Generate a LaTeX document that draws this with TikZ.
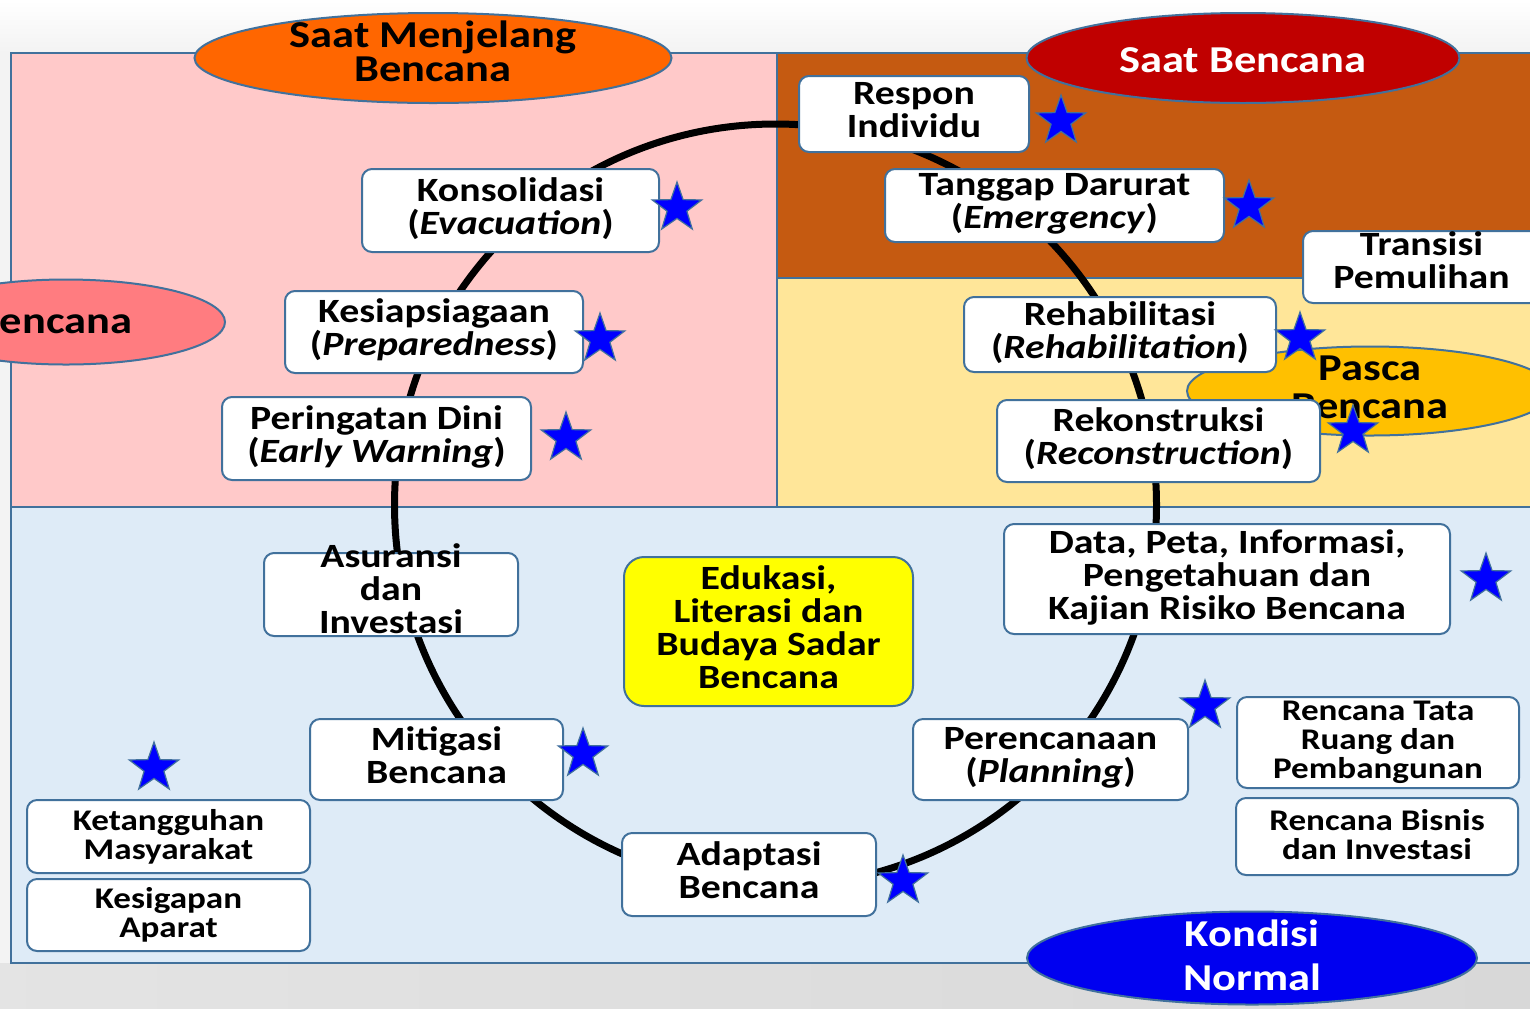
\documentclass[tikz,border=0pt]{standalone}
\usepackage{fontspec}
\setmainfont{Carlito}[UprightFont={* Bold}, BoldFont={* Bold}, ItalicFont={* Bold Italic}, BoldItalicFont={* Bold Italic}, FakeStretch=1.17]
\usetikzlibrary{shapes.geometric}

\definecolor{edgeC}{HTML}{41719C}
\definecolor{pinkZ}{HTML}{FFC9C9}
\definecolor{brownZ}{HTML}{C55A11}
\definecolor{creamZ}{HTML}{FFE699}
\definecolor{blueZ}{HTML}{DEEBF7}
\definecolor{orangeE}{HTML}{FF6600}
\definecolor{redE}{HTML}{C00000}
\definecolor{roseE}{HTML}{FF7C80}
\definecolor{goldE}{HTML}{FFC000}
\definecolor{navyE}{HTML}{0000F0}
\definecolor{starC}{HTML}{0000FF}
\definecolor{paperC}{HTML}{F3F3F3}
\definecolor{floorC}{HTML}{D8D8D8}
\definecolor{yellowB}{HTML}{FFFF00}

\tikzset{
  zoneline/.style={draw=edgeC, line width=1.3pt},
  txt/.style={align=center, font=\fontsize{17}{16.5}\selectfont},
  smalltxt/.style={align=center, font=\fontsize{15}{14.5}\selectfont},
  bigtxt/.style={align=center, font=\fontsize{19}{17}\selectfont},
  card/.style={rectangle, rounded corners=5pt, draw=edgeC, line width=1pt,
    fill=white, inner sep=0pt, txt, text depth=4.5pt},
  smallcard/.style={card, smalltxt, text depth=2.5pt},
  phase/.style={ellipse, draw=edgeC, line width=1pt, inner sep=0pt},
  starmark/.style={star, star points=5, star point ratio=2.5, minimum size=26pt,
    inner sep=0pt, fill=starC, draw=edgeC, line width=0.6pt},
  cycle/.style={line width=3.5pt, black}
}

\begin{document}
\begin{tikzpicture}[x=0.5pt, y=-0.5pt]
\useasboundingbox (0,0) rectangle (1530,1008);

% page background
\shade[top color=white, bottom color=paperC] (0,0) rectangle (1530,53);
\fill[paperC] (0,53) rectangle (1530,963);
\shade[left color=floorC!70!white, right color=floorC] (0,963) rectangle (1530,1008);

% phase zones
\fill[pinkZ] (11,53) rectangle (777,507);
\fill[brownZ] (777,53) rectangle (1545,278);
\fill[creamZ] (777,278) rectangle (1545,507);
\fill[blueZ] (11,507) rectangle (1545,963);
\draw[zoneline] (1545,53) -- (11,53) -- (11,963) -- (1545,963);
\draw[zoneline] (11,507) -- (1545,507);
\draw[zoneline] (777,53) -- (777,507);
\draw[zoneline] (777,278) -- (1545,278);

% disaster management cycle
\draw[cycle] (775.5,505) circle (381);

% phase labels
\node[phase, fill=orangeE, minimum width=238.5pt, minimum height=45pt,
  label={[bigtxt, text=black, yshift=3.5pt]center:{Saat Menjelang\\Bencana}}] (menj) at (433,58) {};
\node[phase, fill=redE, minimum width=216.5pt, minimum height=45pt,
  label={[bigtxt, text=white, yshift=-1pt]center:{Saat Bencana}}] (saat) at (1243,58) {};
\node[phase, fill=roseE, minimum width=159pt, minimum height=42.5pt,
  label={[bigtxt, text=black, yshift=-1pt]center:{encana}}] (pra) at (66,322) {};
\node[phase, fill=goldE, minimum width=183pt, minimum height=44.5pt,
  label={[align=center, font=\fontsize{19}{19}\selectfont, text=black, yshift=2pt]center:{Pasca\\Bencana}}] (pasc) at (1370,391) {};
\node[phase, fill=navyE, minimum width=225pt, minimum height=46.5pt,
  label={[align=center, font=\fontsize{19}{22}\selectfont, text=white, yshift=1.5pt]center:{Kondisi\\Normal}}] (kond) at (1252,958) {};

% activity cards
\node[card, minimum width=115pt, minimum height=38pt] (resp) at (914,114) {Respon\\Individu};
\node[card, minimum width=148.5pt, minimum height=41.5pt] (kons) at (510.5,210.5) {Konsolidasi\\(\textit{Evacuation})};
\node[card, minimum width=169.5pt, minimum height=36.5pt] (tang) at (1054.5,205.5) {Tanggap Darurat\\(\textit{Emergency})};
\node[card, minimum width=118.5pt, minimum height=36pt, text depth=7pt] (tran) at (1421.5,267) {Transisi\\Pemulihan};
\node[card, minimum width=149pt, minimum height=41pt] (kesi) at (434,332) {Kesiapsiagaan\\(\textit{Preparedness})};
\node[card, minimum width=156pt, minimum height=37.5pt] (reha) at (1120,334.5) {Rehabilitasi\\(\textit{Rehabilitation})};
\node[card, minimum width=154.5pt, minimum height=41.5pt] (peri) at (376.5,438.5) {Peringatan Dini\\(\textit{Early Warning})};
\node[card, minimum width=161.5pt, minimum height=41pt] (reko) at (1158.5,441) {Rekonstruksi\\(\textit{Reconstruction})};
\node[card, minimum width=127pt, minimum height=41.5pt,
  label={[txt, yshift=3pt]center:{Asuransi\\dan\\Investasi}}] (asur) at (391,594.5) {};
\node[card, fill=yellowB, rounded corners=10pt, minimum width=144.5pt, minimum height=74.5pt] (eduk) at (768.5,631.5) {Edukasi,\\Literasi dan\\Budaya Sadar\\Bencana};
\node[card, minimum width=223pt, minimum height=55pt] (data) at (1227,579) {Data, Peta, Informasi,\\Pengetahuan dan\\Kajian Risiko Bencana};
\node[card, minimum width=126.5pt, minimum height=40.5pt] (miti) at (436.5,759.5) {Mitigasi\\Bencana};
\node[card, minimum width=137.5pt, minimum height=40.5pt] (pere) at (1050.5,759.5) {Perencanaan\\(\textit{Planning})};
\node[smallcard, minimum width=141pt, minimum height=45.5pt] (rtrp) at (1378,742.5) {Rencana Tata\\Ruang dan\\Pembangunan};
\node[smallcard, minimum width=141pt, minimum height=38.5pt] (rbis) at (1377,836.5) {Rencana Bisnis\\dan Investasi};
\node[smallcard, minimum width=141.5pt, minimum height=36.5pt] (ketg) at (168.5,836.5) {Ketangguhan\\Masyarakat};
\node[smallcard, minimum width=141.5pt, minimum height=36pt] (kesg) at (168.5,915) {Kesigapan\\Aparat};
\node[card, minimum width=127pt, minimum height=41.5pt] (adap) at (749,874.5) {Adaptasi\\Bencana};

% priority stars
\node[starmark] (st1) at (1061,121) {};
\node[starmark] (st2) at (677,208) {};
\node[starmark] (st3) at (1249,206) {};
\node[starmark] (st4) at (600,339) {};
\node[starmark] (st5) at (566,438) {};
\node[starmark] (st6) at (1300,338) {};
\node[starmark] (st7) at (1353,431) {};
\node[starmark] (st8) at (1486,579) {};
\node[starmark] (st9) at (1205,706) {};
\node[starmark] (st10) at (154,768) {};
\node[starmark] (st11) at (583,754) {};
\node[starmark] (st12) at (903,881) {};
\end{tikzpicture}
\end{document}
